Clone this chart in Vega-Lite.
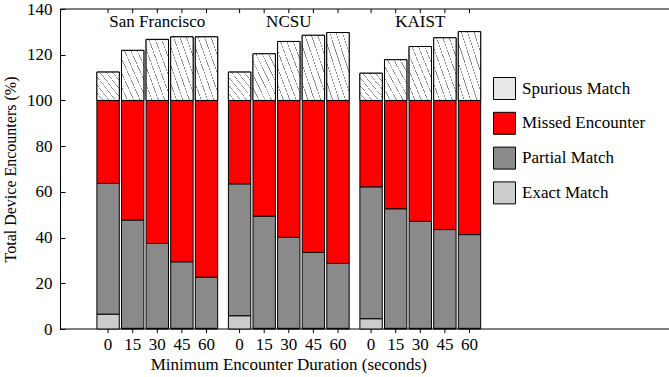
{
  "$schema": "https://vega.github.io/schema/vega-lite/v6.json",
  "width": 609,
  "height": 320,
  "autosize": {"type": "none"},
  "padding": {"left": 60, "top": 9, "right": 0, "bottom": 48},
  "config": {
    "view": {"stroke": null},
    "font": "Liberation Serif",
    "axis": {"labelFont": "Liberation Serif", "titleFont": "Liberation Serif", "labelColor": "black", "titleColor": "black", "domainColor": "black", "tickColor": "black", "titleFontWeight": "normal", "grid": false},
    "legend": {"labelFont": "Liberation Serif", "labelFontSize": 17, "labelColor": "black"}
  },
  "datasets": {
    "segments": [
      {"group": "San Francisco", "duration": "0", "category": "Exact Match", "value": 6.5},
      {"group": "San Francisco", "duration": "0", "category": "Partial Match", "value": 57.2},
      {"group": "San Francisco", "duration": "0", "category": "Missed Encounter", "value": 36.3},
      {"group": "San Francisco", "duration": "0", "category": "Spurious Match", "value": 12.4},
      {"group": "San Francisco", "duration": "15", "category": "Exact Match", "value": 0.3},
      {"group": "San Francisco", "duration": "15", "category": "Partial Match", "value": 47.4},
      {"group": "San Francisco", "duration": "15", "category": "Missed Encounter", "value": 52.3},
      {"group": "San Francisco", "duration": "15", "category": "Spurious Match", "value": 21.9},
      {"group": "San Francisco", "duration": "30", "category": "Exact Match", "value": 0.3},
      {"group": "San Francisco", "duration": "30", "category": "Partial Match", "value": 37.1},
      {"group": "San Francisco", "duration": "30", "category": "Missed Encounter", "value": 62.6},
      {"group": "San Francisco", "duration": "30", "category": "Spurious Match", "value": 26.7},
      {"group": "San Francisco", "duration": "45", "category": "Exact Match", "value": 0.3},
      {"group": "San Francisco", "duration": "45", "category": "Partial Match", "value": 29.1},
      {"group": "San Francisco", "duration": "45", "category": "Missed Encounter", "value": 70.6},
      {"group": "San Francisco", "duration": "45", "category": "Spurious Match", "value": 27.8},
      {"group": "San Francisco", "duration": "60", "category": "Exact Match", "value": 0.3},
      {"group": "San Francisco", "duration": "60", "category": "Partial Match", "value": 22.4},
      {"group": "San Francisco", "duration": "60", "category": "Missed Encounter", "value": 77.3},
      {"group": "San Francisco", "duration": "60", "category": "Spurious Match", "value": 27.8},
      {"group": "NCSU", "duration": "0", "category": "Exact Match", "value": 5.8},
      {"group": "NCSU", "duration": "0", "category": "Partial Match", "value": 57.7},
      {"group": "NCSU", "duration": "0", "category": "Missed Encounter", "value": 36.5},
      {"group": "NCSU", "duration": "0", "category": "Spurious Match", "value": 12.4},
      {"group": "NCSU", "duration": "15", "category": "Exact Match", "value": 0.3},
      {"group": "NCSU", "duration": "15", "category": "Partial Match", "value": 49.1},
      {"group": "NCSU", "duration": "15", "category": "Missed Encounter", "value": 50.6},
      {"group": "NCSU", "duration": "15", "category": "Spurious Match", "value": 20.4},
      {"group": "NCSU", "duration": "30", "category": "Exact Match", "value": 0.3},
      {"group": "NCSU", "duration": "30", "category": "Partial Match", "value": 39.8},
      {"group": "NCSU", "duration": "30", "category": "Missed Encounter", "value": 59.9},
      {"group": "NCSU", "duration": "30", "category": "Spurious Match", "value": 25.8},
      {"group": "NCSU", "duration": "45", "category": "Exact Match", "value": 0.3},
      {"group": "NCSU", "duration": "45", "category": "Partial Match", "value": 33.2},
      {"group": "NCSU", "duration": "45", "category": "Missed Encounter", "value": 66.5},
      {"group": "NCSU", "duration": "45", "category": "Spurious Match", "value": 28.5},
      {"group": "NCSU", "duration": "60", "category": "Exact Match", "value": 0.3},
      {"group": "NCSU", "duration": "60", "category": "Partial Match", "value": 28.4},
      {"group": "NCSU", "duration": "60", "category": "Missed Encounter", "value": 71.3},
      {"group": "NCSU", "duration": "60", "category": "Spurious Match", "value": 29.7},
      {"group": "KAIST", "duration": "0", "category": "Exact Match", "value": 4.5},
      {"group": "KAIST", "duration": "0", "category": "Partial Match", "value": 57.7},
      {"group": "KAIST", "duration": "0", "category": "Missed Encounter", "value": 37.8},
      {"group": "KAIST", "duration": "0", "category": "Spurious Match", "value": 11.9},
      {"group": "KAIST", "duration": "15", "category": "Exact Match", "value": 0.3},
      {"group": "KAIST", "duration": "15", "category": "Partial Match", "value": 52.3},
      {"group": "KAIST", "duration": "15", "category": "Missed Encounter", "value": 47.4},
      {"group": "KAIST", "duration": "15", "category": "Spurious Match", "value": 17.8},
      {"group": "KAIST", "duration": "30", "category": "Exact Match", "value": 0.3},
      {"group": "KAIST", "duration": "30", "category": "Partial Match", "value": 46.8},
      {"group": "KAIST", "duration": "30", "category": "Missed Encounter", "value": 52.9},
      {"group": "KAIST", "duration": "30", "category": "Spurious Match", "value": 23.6},
      {"group": "KAIST", "duration": "45", "category": "Exact Match", "value": 0.3},
      {"group": "KAIST", "duration": "45", "category": "Partial Match", "value": 43.2},
      {"group": "KAIST", "duration": "45", "category": "Missed Encounter", "value": 56.5},
      {"group": "KAIST", "duration": "45", "category": "Spurious Match", "value": 27.4},
      {"group": "KAIST", "duration": "60", "category": "Exact Match", "value": 0.3},
      {"group": "KAIST", "duration": "60", "category": "Partial Match", "value": 41.0},
      {"group": "KAIST", "duration": "60", "category": "Missed Encounter", "value": 58.7},
      {"group": "KAIST", "duration": "60", "category": "Spurious Match", "value": 30.1}
    ],
    "groups": [{"group": "San Francisco"}, {"group": "NCSU"}, {"group": "KAIST"}],
    "frame": [{"level": 0}, {"level": 140}],
    "xtitle": [{"label": "Minimum Encounter Duration (seconds)"}]
  },
  "layer": [
    {
      "data": {"name": "frame"},
      "mark": {"type": "rule", "color": "black", "strokeWidth": 1},
      "encoding": {"y": {"field": "level", "type": "quantitative"}}
    },
    {
      "data": {"name": "segments"},
      "transform": [{"calculate": "indexof(['Exact Match', 'Partial Match', 'Missed Encounter', 'Spurious Match'], datum.category)", "as": "stackOrder"}],
      "mark": {"type": "bar", "stroke": "black", "strokeWidth": 1},
      "encoding": {
        "x": {"field": "group", "type": "nominal", "sort": ["San Francisco", "NCSU", "KAIST"],
              "scale": {"paddingInner": 0.0646, "paddingOuter": 0.848, "align": 0.1605}, "axis": null},
        "xOffset": {"field": "duration", "type": "ordinal", "sort": ["0", "15", "30", "45", "60"],
                    "scale": {"paddingInner": 0.09, "paddingOuter": 0.045}},
        "y": {"field": "value", "type": "quantitative", "stack": "zero",
              "scale": {"domain": [0, 140], "nice": false, "zero": true},
              "axis": {"values": [0, 20, 40, 60, 80, 100, 120, 140], "tickSize": -5, "labelPadding": 13, "labelFontSize": 17,
                       "title": "Total Device Encounters (%)", "titleFontSize": 16, "titlePadding": 8}},
        "order": {"field": "stackOrder", "type": "quantitative", "sort": "ascending"},
        "color": {"field": "category", "type": "nominal",
                  "scale": {"domain": ["Spurious Match", "Missed Encounter", "Partial Match", "Exact Match"],
                            "range": ["#e8e8e8", "#ff0000", "#8a8a8a", "#cccccc"]},
                  "legend": {"orient": "none", "legendX": 433, "legendY": 68, "title": null, "padding": 0,
                             "symbolType": "square", "symbolSize": 484, "symbolStrokeColor": "black", "symbolStrokeWidth": 1,
                             "symbolOpacity": 1, "rowPadding": 7.8, "labelOffset": 6, "labelFontSize": 17}}
      }
    },
    {
      "data": {"name": "segments"},
      "transform": [
        {"stack": "value", "groupby": ["group", "duration"], "sort": [{"field": "category", "order": "ascending"}], "as": ["v0", "v1"]},
        {"filter": "datum.category === 'Spurious Match'"}
      ],
      "mark": {"type": "bar", "stroke": "black", "strokeWidth": 1,
               "fill": {"gradient": "linear", "x1": 0, "y1": 1, "x2": 1, "y2": 0, "stops": [
                 {"offset": 0, "color": "#ffffff"}, {"offset": 0.125, "color": "#ffffff"}, {"offset": 0.125, "color": "#8a8a8a"}, {"offset": 0.143, "color": "#8a8a8a"},
                 {"offset": 0.143, "color": "#ffffff"}, {"offset": 0.268, "color": "#ffffff"}, {"offset": 0.268, "color": "#8a8a8a"}, {"offset": 0.286, "color": "#8a8a8a"},
                 {"offset": 0.286, "color": "#ffffff"}, {"offset": 0.411, "color": "#ffffff"}, {"offset": 0.411, "color": "#8a8a8a"}, {"offset": 0.429, "color": "#8a8a8a"},
                 {"offset": 0.429, "color": "#ffffff"}, {"offset": 0.554, "color": "#ffffff"}, {"offset": 0.554, "color": "#8a8a8a"}, {"offset": 0.571, "color": "#8a8a8a"},
                 {"offset": 0.571, "color": "#ffffff"}, {"offset": 0.696, "color": "#ffffff"}, {"offset": 0.696, "color": "#8a8a8a"}, {"offset": 0.714, "color": "#8a8a8a"},
                 {"offset": 0.714, "color": "#ffffff"}, {"offset": 0.839, "color": "#ffffff"}, {"offset": 0.839, "color": "#8a8a8a"}, {"offset": 0.857, "color": "#8a8a8a"},
                 {"offset": 0.857, "color": "#ffffff"}, {"offset": 0.982, "color": "#ffffff"}, {"offset": 0.982, "color": "#8a8a8a"}, {"offset": 1, "color": "#8a8a8a"}
               ]}},
      "encoding": {
        "x": {"field": "group", "type": "nominal", "sort": ["San Francisco", "NCSU", "KAIST"]},
        "xOffset": {"field": "duration", "type": "ordinal", "sort": ["0", "15", "30", "45", "60"]},
        "y": {"field": "v0", "type": "quantitative"},
        "y2": {"field": "v1"}
      }
    },
    {
      "data": {"name": "segments"},
      "transform": [{"filter": "datum.category === 'Exact Match'"}],
      "mark": {"type": "rule", "color": "black", "strokeWidth": 1},
      "encoding": {
        "x": {"field": "group", "type": "nominal", "sort": ["San Francisco", "NCSU", "KAIST"]},
        "xOffset": {"field": "duration", "type": "ordinal", "sort": ["0", "15", "30", "45", "60"]},
        "y": {"datum": 0},
        "y2": {"datum": -1.8}
      }
    },
    {
      "data": {"name": "segments"},
      "transform": [{"filter": "datum.category === 'Exact Match'"}],
      "mark": {"type": "rule", "color": "black", "strokeWidth": 1},
      "encoding": {
        "x": {"field": "group", "type": "nominal", "sort": ["San Francisco", "NCSU", "KAIST"]},
        "xOffset": {"field": "duration", "type": "ordinal", "sort": ["0", "15", "30", "45", "60"]},
        "y": {"datum": 140},
        "y2": {"datum": 138.2}
      }
    },
    {
      "data": {"name": "segments"},
      "transform": [{"filter": "datum.category === 'Exact Match'"}],
      "mark": {"type": "text", "fontSize": 17, "font": "Liberation Serif", "color": "black", "baseline": "alphabetic", "dy": 21},
      "encoding": {
        "x": {"field": "group", "type": "nominal", "sort": ["San Francisco", "NCSU", "KAIST"]},
        "xOffset": {"field": "duration", "type": "ordinal", "sort": ["0", "15", "30", "45", "60"]},
        "y": {"datum": 0},
        "text": {"field": "duration"}
      }
    },
    {
      "data": {"name": "groups"},
      "mark": {"type": "text", "fontSize": 17, "font": "Liberation Serif", "color": "black", "baseline": "alphabetic"},
      "encoding": {
        "x": {"field": "group", "type": "nominal", "sort": ["San Francisco", "NCSU", "KAIST"]},
        "y": {"datum": 132},
        "text": {"field": "group"}
      }
    },
    {
      "data": {"name": "xtitle"},
      "mark": {"type": "text", "fontSize": 17, "font": "Liberation Serif", "color": "black", "baseline": "alphabetic", "dy": 41},
      "encoding": {
        "x": {"datum": "NCSU"},
        "y": {"datum": 0},
        "text": {"field": "label"}
      }
    }
  ]
}
